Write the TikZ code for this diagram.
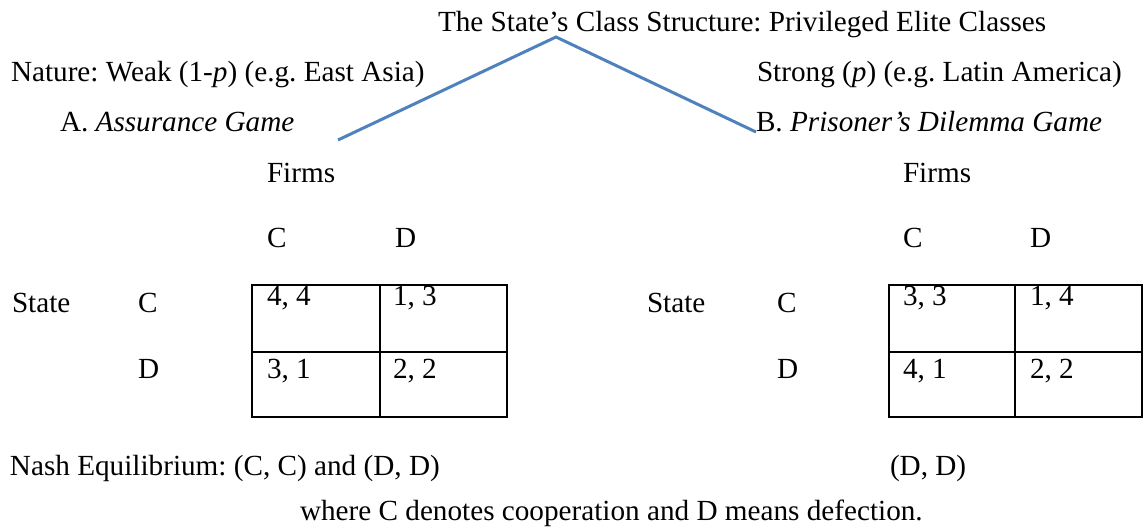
\documentclass[tikz,border=0pt]{standalone}
\usepackage{fontspec}
\setmainfont{Liberation Serif}
\frenchspacing
\definecolor{branchblue}{HTML}{4F81BD}
\begin{document}
\begin{tikzpicture}[x=0.5pt,y=-0.5pt,
    every node/.style={inner sep=0pt,outer sep=0pt,anchor=base west,
      font=\fontsize{14.6}{17}\selectfont},
    branch/.style={draw=branchblue,line width=1.5pt},
    payoff/.style={draw,line width=1pt}]
    \useasboundingbox (0,0) rectangle (1146,529);

    % tree
    \node (title) at (438,32) {The State's Class Structure: Privileged Elite Classes};
    \node (weak) at (11,82) {Nature: Weak (1-\textit{p}) (e.g. East Asia)};
    \node (strong) at (757,82) {Strong (\textit{p}) (e.g. Latin America)};
    \node (gameA) at (60,132) {A. \textit{Assurance Game}};
    \node (gameB) at (756,132) {B. \textit{Prisoner's Dilemma Game}};
    \coordinate (apex) at (556,37);
    \coordinate (endA) at (338,140);
    \draw[branch] (endA) -- (apex) -- (gameB.base west);

    % game A
    \node (firmsA) at (267,183) {Firms};
    \node (colCA) at (267,248) {C};
    \node (colDA) at (395,248) {D};
    \node (stateA) at (12,313) {State};
    \node (rowCA) at (138,313) {C};
    \node (rowDA) at (138,379) {D};
    \draw[payoff] (252,285) rectangle (507,417);
    \draw[payoff] (380,285) -- (380,417) (252,352) -- (507,352);
    \node (ccA) at (267,306) {4, 4};
    \node (cdA) at (393,306) {1, 3};
    \node (dcA) at (267,379) {3, 1};
    \node (ddA) at (393,379) {2, 2};

    % game B
    \node (firmsB) at (903,183) {Firms};
    \node (colCB) at (903,248) {C};
    \node (colDB) at (1030,248) {D};
    \node (stateB) at (647,313) {State};
    \node (rowCB) at (777,313) {C};
    \node (rowDB) at (777,379) {D};
    \draw[payoff] (889,285) rectangle (1142,417);
    \draw[payoff] (1015,285) -- (1015,417) (889,352) -- (1142,352);
    \node (ccB) at (903,306) {3, 3};
    \node (cdB) at (1030,306) {1, 4};
    \node (dcB) at (903,379) {4, 1};
    \node (ddB) at (1030,379) {2, 2};

    % equilibria
    \node (nashA) at (10,475) {Nash Equilibrium: (C, C) and (D, D)};
    \node (nashB) at (890,475) {(D, D)};
    \node (note) at (300,520) {where C denotes cooperation and D means defection.};
\end{tikzpicture}
\end{document}
